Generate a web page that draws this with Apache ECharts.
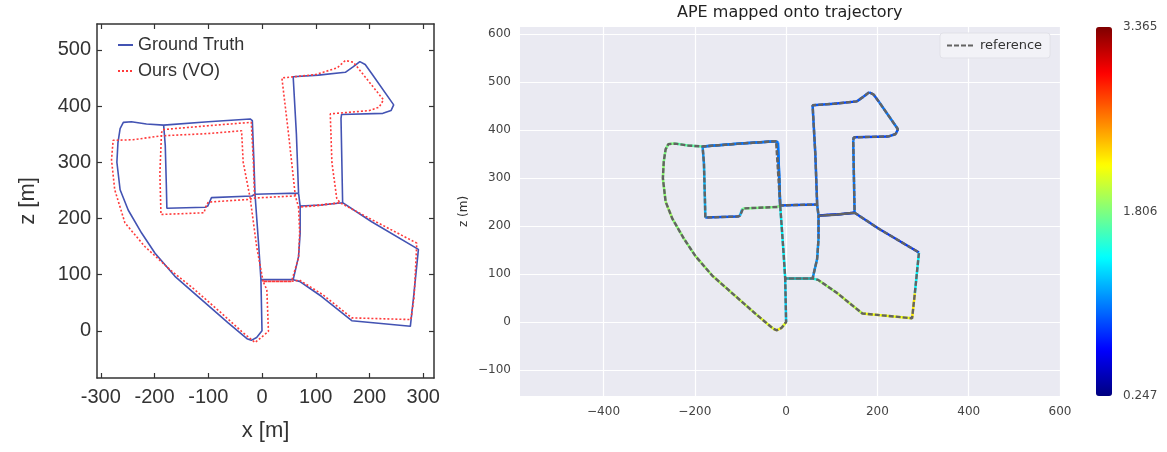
<!DOCTYPE html>
<html>
<head>
<meta charset="utf-8">
<script src="https://cdn.jsdelivr.net/npm/echarts@6/dist/echarts.min.js"></script>
<style>
  html, body { margin: 0; padding: 0; background: #fff; }
  #chart { width: 1167px; height: 452px; }
</style>
</head>
<body>
<div id="chart"></div>
<script>
// ground truth path [x, z]
const gtPath = [
  [68, 245], [64, 350], [58, 452], [105, 455], [155, 460], [170, 470], [182, 479],
  [192, 474], [204, 458], [245, 402], [240, 392], [225, 387], [148, 385], [147, 378],
  [150, 228], [204, 194], [291, 145], [282, 60], [276, 8], [167, 18], [111, 61],
  [70, 88], [58, 91], [-2, 91], [0, 0], [-10, -12], [-20, -17], [-28, -14],
  [-63, 14], [-112, 55], [-162, 97], [-199, 138], [-224, 174], [-249, 215], [-264, 251],
  [-270, 300], [-268, 335], [-264, 360], [-258, 371], [-243, 372], [-215, 368], [-183, 366],
  [-100, 372], [-22, 377], [-18, 374], [-15, 300], [-13, 243], [-6, 150], [-2, 91],
  [58, 91], [68, 132], [71, 174], [71, 222], [110, 224], [150, 228], [110, 224],
  [71, 222], [68, 245], [20, 244], [-13, 243], [-19, 240], [-94, 237], [-97, 234],
  [-101, 222], [-106, 220], [-177, 218], [-178, 260], [-180, 330], [-183, 366],
  [-100, 372], [-22, 377], [-18, 374], [-13, 243]
];

// APE per ground-truth point (colour of the segment that starts there)
const apeError = [
  0.95, 0.95, 0.9, 0.85, 0.9, 0.9, 0.9,
  0.9, 1.0, 0.9, 0.9, 0.85, 1.0, 1.0,
  0.85, 0.8, 1.4, 2.25, 2.15, 2.0, 1.9,
  1.5, 1.4, 1.3, 2.1, 2.2, 2.2, 2.1,
  2.0, 1.95, 1.9, 1.85, 1.85, 1.9, 1.85,
  1.85, 1.8, 1.8, 1.8, 1.7, 1.7, 1.0,
  0.9, 1.0, 1.0, 1.1, 1.4, 1.4, 1.4,
  1.1, 1.1, 1.0, 0.8, 0.8, 0.8, 0.8,
  1.0, 0.9, 0.9, 1.8, 1.8, 1.7, 1.2,
  0.9, 0.9, 1.2, 1.2, 1.1, 1.0,
  1.0, 1.0, 1.0, 1.0
];

// visual odometry path [x, z]
const voPath = [
  [62, 240], [50, 345], [37, 450], [100, 456], [140, 468], [155, 481], [170, 478],
  [226, 411], [218, 398], [200, 392], [127, 386], [130, 300], [139, 236], [145, 228],
  [204, 198], [288, 156], [283, 60], [277, 20], [167, 23], [112, 65], [70, 90],
  [55, 88], [2, 88], [9, 73], [12, -1], [-13, -21], [-38, -1], [-75, 31],
  [-125, 73], [-168, 106], [-218, 150], [-255, 192], [-274, 251], [-280, 304], [-277, 339],
  [-240, 340], [-187, 347], [-100, 351], [-38, 356], [-35, 300], [-22, 236], [-10, 150],
  [2, 88], [55, 88], [68, 130], [70, 175], [68, 220], [108, 224], [145, 228],
  [108, 223], [68, 220], [62, 240], [20, 238], [-18, 236], [-22, 234], [-100, 229],
  [-104, 222], [-108, 210], [-188, 207], [-190, 280], [-187, 352], [-185, 358],
  [-100, 365], [-20, 371], [-16, 300], [-14, 240]
];

const xTicksLeft = [-300, -200, -100, 0, 100, 200, 300];
const zTicksLeft = [0, 100, 200, 300, 400, 500];
const xTicksRight = [-400, -200, 0, 200, 400, 600];
const zTicksRight = [-100, 0, 100, 200, 300, 400, 500, 600];
const colorbarTicks = [0.247, 1.806, 3.365];
const jet = ['#00007f', '#0000ff', '#007fff', '#00ffff', '#7fff7f', '#ffff00', '#ff7f00', '#ff0000', '#7f0000'];

const apeSegments = [];
for (let i = 0; i < gtPath.length - 1; i += 1) {
  apeSegments.push({ coords: [gtPath[i], gtPath[i + 1]], value: apeError[i] });
}

const minus = v => (v < 0 ? `\u2212${Math.abs(v)}` : `${v}`);
const leftFont = 'Liberation Sans, Arial, sans-serif';
const rightFont = 'DejaVu Sans, sans-serif';

const boxTick = ticks => ({
  show: true, inside: true, length: 5, customValues: ticks, lineStyle: { color: '#333', width: 1.2 },
});

const boxAxis = extra => Object.assign({
  type: 'value',
  gridIndex: 0,
  axisLine: { show: true, onZero: false, lineStyle: { color: '#333', width: 1.5 } },
  splitLine: { show: false },
}, extra);

const chart = echarts.init(document.getElementById('chart'));

chart.setOption({
  animation: false,
  title: {
    text: 'APE mapped onto trajectory',
    left: 677,
    top: 5,
    padding: 0,
    textStyle: { fontFamily: rightFont, fontSize: 16, fontWeight: 'normal', color: '#222' },
  },
  legend: [{
    data: ['Ground Truth', 'Ours (VO)'],
    orient: 'vertical',
    left: 112,
    top: 31,
    itemWidth: 15,
    itemHeight: 10,
    itemGap: 8,
    itemStyle: { opacity: 0 },
    textStyle: { fontFamily: leftFont, fontSize: 18, color: '#333' },
  }, {
    data: ['reference'],
    left: 940,
    top: 33,
    padding: [6, 8, 6, 6],
    itemWidth: 28,
    itemHeight: 12,
    itemGap: 8,
    itemStyle: { opacity: 0 },
    backgroundColor: 'rgba(242,242,247,0.95)',
    borderColor: 'rgba(225,225,232,1)',
    borderWidth: 1,
    borderRadius: 3,
    textStyle: { fontFamily: rightFont, fontSize: 13, color: '#333' },
  }],
  grid: [
    { left: 97, top: 24, width: 337, height: 354 },
    {
      left: 520, top: 27, width: 540, height: 369, show: true, backgroundColor: '#eaeaf2', borderWidth: 0,
    },
    { left: 1096, top: 27, width: 16, height: 369 },
  ],
  xAxis: [
    boxAxis({
      min: -307,
      max: 320,
      position: 'bottom',
      name: 'x [m]',
      nameLocation: 'middle',
      nameGap: 42,
      nameTextStyle: { fontFamily: leftFont, fontSize: 22, color: '#333' },
      axisTick: boxTick(xTicksLeft),
      axisLabel: { customValues: xTicksLeft, margin: 9, fontFamily: leftFont, fontSize: 20, color: '#333' },
    }),
    boxAxis({
      min: -307,
      max: 320,
      position: 'top',
      axisTick: boxTick(xTicksLeft),
      axisLabel: { show: false },
    }),
    {
      type: 'value',
      gridIndex: 1,
      min: -583,
      max: 600,
      axisLine: { show: false },
      axisTick: { show: false, customValues: xTicksRight },
      axisLabel: {
        customValues: xTicksRight, formatter: minus, margin: 10, fontFamily: rightFont, fontSize: 12, color: '#444',
      },
      splitLine: { show: true, lineStyle: { color: '#fff', width: 1.2 } },
    },
    {
      type: 'value', gridIndex: 2, min: 0, max: 1, show: false,
    },
  ],
  yAxis: [
    boxAxis({
      min: -84,
      max: 546,
      position: 'left',
      name: 'z [m]',
      nameLocation: 'middle',
      nameGap: 58,
      nameTextStyle: { fontFamily: leftFont, fontSize: 22, color: '#333' },
      axisTick: boxTick(zTicksLeft),
      axisLabel: { customValues: zTicksLeft, margin: 6, fontFamily: leftFont, fontSize: 20, color: '#333' },
    }),
    boxAxis({
      min: -84,
      max: 546,
      position: 'right',
      axisTick: boxTick(zTicksLeft),
      axisLabel: { show: false },
    }),
    {
      type: 'value',
      gridIndex: 1,
      min: -154,
      max: 615,
      name: 'z (m)',
      nameLocation: 'middle',
      nameGap: 50,
      nameTextStyle: { fontFamily: rightFont, fontSize: 12, color: '#333' },
      axisLine: { show: false },
      axisTick: { show: false, customValues: zTicksRight },
      axisLabel: {
        customValues: zTicksRight, formatter: minus, margin: 9, fontFamily: rightFont, fontSize: 12, color: '#444',
      },
      splitLine: { show: true, lineStyle: { color: '#fff', width: 1.2 } },
    },
    {
      type: 'value',
      gridIndex: 2,
      min: 0.247,
      max: 3.365,
      position: 'right',
      axisLine: { show: false },
      axisTick: { show: false, customValues: colorbarTicks },
      axisLabel: {
        customValues: colorbarTicks, formatter: v => v.toFixed(3), margin: 11, fontFamily: rightFont, fontSize: 12, color: '#444',
      },
      splitLine: { show: false },
    },
  ],
  visualMap: {
    type: 'continuous',
    min: 0.247,
    max: 3.365,
    seriesIndex: 2,
    dimension: 'value',
    left: 1096,
    top: 27,
    padding: 0,
    itemWidth: 16,
    itemHeight: 369,
    calculable: false,
    hoverLink: false,
    text: null,
    inRange: { color: jet },
  },
  series: [{
    name: 'Ground Truth',
    type: 'line',
    xAxisIndex: 0,
    yAxisIndex: 0,
    data: gtPath,
    symbol: 'none',
    color: '#4353b3',
    lineStyle: { width: 1.6, color: '#4353b3' },
    z: 2,
  }, {
    name: 'Ours (VO)',
    type: 'line',
    xAxisIndex: 0,
    yAxisIndex: 0,
    data: voPath,
    symbol: 'none',
    color: '#ff3a3a',
    lineStyle: { width: 1.6, color: '#ff3a3a', type: [2, 2] },
    z: 3,
  }, {
    name: 'APE',
    type: 'lines',
    coordinateSystem: 'cartesian2d',
    xAxisIndex: 2,
    yAxisIndex: 2,
    data: apeSegments,
    lineStyle: { width: 2.5, opacity: 1 },
    z: 2,
  }, {
    name: 'reference',
    type: 'line',
    xAxisIndex: 2,
    yAxisIndex: 2,
    data: gtPath,
    symbol: 'none',
    color: '#636363',
    lineStyle: { width: 2.4, color: '#636363', type: [5, 2] },
    z: 3,
  }],
});
</script>
</body>
</html>
